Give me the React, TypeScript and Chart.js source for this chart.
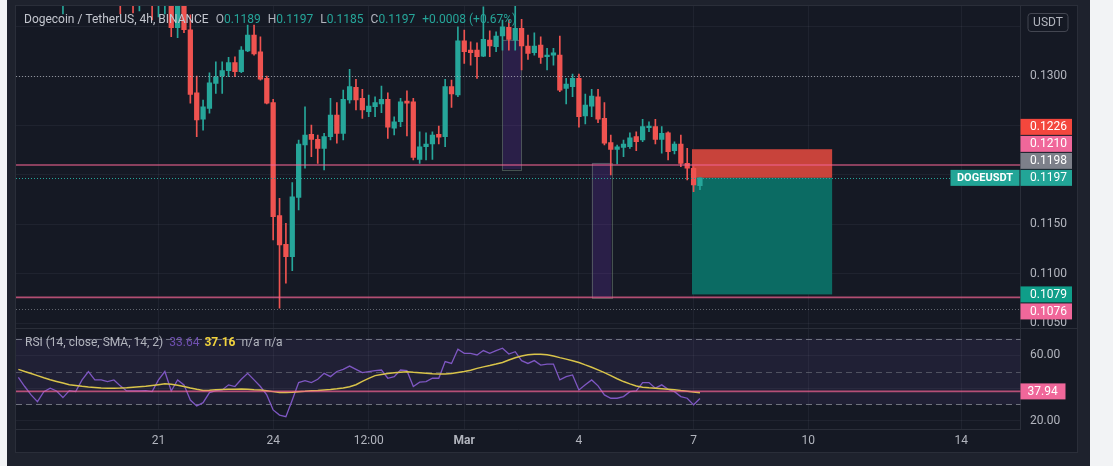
import React, { useEffect, useRef } from 'react';
import { Chart, registerables } from 'chart.js';

Chart.register(...registerables);

// ---------------- data ----------------
// candle position: 0 = 21 Feb 00:00, one step = one 4h candle
const candleIdx = [-15, -6, -4, -3, -1, 0, 1, 2, 3, 4, 5,
  6, 7, 8, 9, 10, 11, 12, 13, 14, 15,
  16, 17, 18, 19, 20, 21, 22, 23, 24, 25,
  26, 27, 28, 29, 30, 31, 32, 33, 34, 35,
  36, 37, 38, 39, 40, 41, 42, 43, 44, 45,
  46, 47, 48, 49, 50, 51, 52, 53, 54, 55,
  56, 57, 58, 59, 60, 61, 62, 63, 64, 65,
  66, 67, 68, 69, 70, 71, 72, 73, 74, 75,
  76, 77, 78, 79, 80, 81, 82, 83, 84, 85];

const opens = [0.1392, 0.1398, 0.1392, 0.1384, 0.1397, 0.1381, 0.1388, 0.1392, 0.1349, 0.1376, 0.1347,
  0.12832, 0.12563, 0.12674, 0.12927, 0.13001, 0.13055, 0.13136, 0.13044, 0.13254, 0.13416,
  0.13247, 0.12978, 0.12731, 0.11587, 0.11298, 0.11172, 0.11773, 0.12303, 0.12411, 0.12360,
  0.12269, 0.12387, 0.12606, 0.12421, 0.12758, 0.12887, 0.12775, 0.12640, 0.12690, 0.12718,
  0.12765, 0.12472, 0.12538, 0.12748, 0.12741, 0.12158, 0.12285, 0.12313, 0.12411, 0.12387,
  0.12893, 0.12809, 0.13358, 0.13264, 0.13264, 0.13203, 0.13365, 0.13298, 0.13406, 0.13494,
  0.13365, 0.13484, 0.13305, 0.13237, 0.13315, 0.13196, 0.13213, 0.13213, 0.12876, 0.12893,
  0.12978, 0.12596, 0.12697, 0.12791, 0.12573, 0.12326, 0.12259, 0.12279, 0.12285, 0.12387,
  0.12353, 0.12478, 0.12488, 0.12360, 0.12427, 0.12245, 0.12313, 0.12117, 0.12067, 0.1189];

const highs = [0.1400, 0.1405, 0.1400, 0.1396, 0.1402, 0.1394, 0.1398, 0.1395, 0.1385, 0.1382, 0.1362,
  0.13001, 0.12758, 0.13034, 0.13146, 0.13146, 0.13190, 0.13196, 0.13298, 0.13517, 0.13517,
  0.13399, 0.13001, 0.12765, 0.11763, 0.11510, 0.11921, 0.12353, 0.12690, 0.12505, 0.12404,
  0.12421, 0.12775, 0.12731, 0.12859, 0.13069, 0.12968, 0.12866, 0.12809, 0.12791, 0.12900,
  0.12832, 0.12589, 0.12775, 0.12852, 0.12775, 0.12437, 0.12427, 0.12437, 0.12495, 0.12968,
  0.12960, 0.13500, 0.13467, 0.13348, 0.13338, 0.13702, 0.13459, 0.13449, 0.13568, 0.13568,
  0.13709, 0.13575, 0.13416, 0.13439, 0.13399, 0.13281, 0.13281, 0.13406, 0.12978, 0.13021,
  0.13021, 0.12819, 0.12866, 0.12866, 0.12731, 0.12404, 0.12303, 0.12353, 0.12427, 0.12437,
  0.12563, 0.12538, 0.12563, 0.12488, 0.12437, 0.12336, 0.12404, 0.12269, 0.12083, 0.1197];

const lows = [0.1363, 0.1363, 0.1364, 0.1366, 0.1357, 0.1360, 0.1363, 0.1340, 0.1339, 0.1344, 0.12725,
  0.12387, 0.12454, 0.12626, 0.12826, 0.12826, 0.12994, 0.12994, 0.13034, 0.13247, 0.13213,
  0.12960, 0.12718, 0.11341, 0.10650, 0.10903, 0.11030, 0.11645, 0.12067, 0.12184, 0.12117,
  0.12050, 0.12353, 0.12320, 0.12353, 0.12725, 0.12657, 0.12573, 0.12589, 0.12589, 0.12629,
  0.12370, 0.12404, 0.12488, 0.12394, 0.12151, 0.12117, 0.12151, 0.12158, 0.12313, 0.12285,
  0.12684, 0.12791, 0.13129, 0.13112, 0.12978, 0.13196, 0.13196, 0.13247, 0.13264, 0.13264,
  0.13264, 0.13062, 0.13170, 0.13213, 0.13129, 0.13062, 0.13112, 0.12842, 0.12718, 0.12791,
  0.12482, 0.12515, 0.12589, 0.12528, 0.12303, 0.11999, 0.12110, 0.12184, 0.12269, 0.12245,
  0.12336, 0.12437, 0.12313, 0.12219, 0.12151, 0.12212, 0.12083, 0.11948, 0.11830, 0.1185];

const closes = [0.1398, 0.1390, 0.1384, 0.1390, 0.1381, 0.1388, 0.1392, 0.1349, 0.1376, 0.1347, 0.12816,
  0.12556, 0.12690, 0.12933, 0.12994, 0.13055, 0.13136, 0.13044, 0.13264, 0.13416, 0.13224,
  0.12968, 0.12725, 0.11577, 0.11290, 0.11172, 0.11779, 0.12313, 0.12404, 0.12360, 0.12269,
  0.12387, 0.12606, 0.12421, 0.12765, 0.12893, 0.12758, 0.12657, 0.12697, 0.12731, 0.12765,
  0.12482, 0.12538, 0.12741, 0.12725, 0.12178, 0.12285, 0.12313, 0.12404, 0.12381, 0.12893,
  0.12819, 0.13358, 0.13247, 0.13237, 0.13196, 0.13372, 0.13305, 0.13406, 0.13500, 0.13372,
  0.13484, 0.13305, 0.13231, 0.13305, 0.13190, 0.13213, 0.13237, 0.12859, 0.12920, 0.12978,
  0.12589, 0.12707, 0.12799, 0.12563, 0.12320, 0.12259, 0.12285, 0.12313, 0.12376, 0.12336,
  0.12488, 0.12495, 0.12360, 0.12421, 0.12235, 0.12313, 0.12117, 0.12067, 0.11898, 0.1197];

// RSI(14) and its SMA(14), first value at candle position -22
const rsiFirstIdx = -22;
const rsiValues = [46.5, 40.9, 35.8, 31.7, 37.8, 39.9, 38.2, 34.2, 38.4, 37.8,
  44.9, 50.0, 44.9, 44.9, 43.9, 44.9, 41.3, 38.2, 38.2, 38.2,
  38.4, 37.8, 44.9, 50.0, 38.2, 44.9, 41.9, 32.7, 29.1, 31.1,
  37.2, 38.4, 38.8, 41.9, 40.9, 45.3, 48.9, 44.9, 40.9, 35.8,
  26.7, 23.6, 22.6, 32.7, 43.3, 44.5, 43.3, 45.3, 48.9, 46.9,
  50.0, 51.3, 53.3, 51.3, 49.3, 49.9, 50.5, 50.9, 45.9, 46.9,
  50.9, 50.5, 40.9, 43.5, 43.9, 45.9, 45.9, 56.0, 54.9, 63.5,
  61.0, 61.0, 60.0, 62.7, 61.0, 62.7, 64.1, 60.6, 62.0, 56.6,
  54.9, 56.6, 53.9, 54.5, 54.5, 44.9, 46.9, 47.9, 38.8, 41.9,
  44.9, 41.3, 35.8, 33.8, 33.8, 34.8, 37.8, 38.2, 43.3, 43.3,
  39.9, 41.9, 39.2, 37.8, 34.8, 33.8, 29.8, 33.64];

const smaValues = [51.3, 50.0, 48.8, 47.5, 46.2, 45.0, 44.0, 43.0, 42.0, 41.5,
  41.0, 40.6, 40.3, 40.0, 39.9, 39.9, 40.0, 40.2, 40.5, 40.8,
  41.0, 41.5, 42.0, 42.5, 42.2, 41.6, 40.9, 40.0, 39.2, 38.5,
  38.6, 38.9, 39.1, 39.2, 39.3, 39.4, 39.3, 39.0, 38.8, 38.3,
  37.8, 37.3, 37.2, 37.4, 37.8, 38.0, 38.3, 38.5, 38.8, 39.1,
  39.5, 40.0, 40.8, 42.0, 44.0, 45.8, 47.5, 48.2, 48.8, 49.2,
  49.6, 49.9, 49.5, 49.2, 48.9, 48.6, 48.5, 48.5, 48.8, 49.4,
  50.0, 50.8, 51.9, 52.8, 53.6, 54.5, 55.5, 57.0, 58.3, 59.4,
  60.1, 60.4, 60.4, 60.1, 59.4, 58.4, 57.5, 56.5, 55.5, 54.0,
  52.6, 51.0, 49.3, 47.5, 45.6, 43.9, 42.5, 41.2, 40.5, 40.1,
  39.9, 39.6, 39.3, 39.0, 38.5, 38.1, 37.6, 37.16];

// time axis
const timeTickIdx = [0, 18, 33, 48, 66, 84, 102, 126];
const timeTickLabels = ['21', '24', '12:00', 'Mar', '4', '7', '10', '14'];

// price axis
const priceTicks = [0.105, 0.110, 0.115, 0.120, 0.125, 0.130, 0.135];
const priceTickLabels = ['0.1050', '0.1100', '0.1150', '', '', '0.1300', ''];

// rsi axis
const rsiTicks = [20, 40, 60];
const rsiTickLabels = ['20.00', '', '60.00'];
const rsiBands = [70, 50, 30];
const rsiLevel = 37.94;

// drawings
const pinkLevels = [0.1210, 0.1076];
const dottedLevels = [0.1300, 0.1064];
const lastPrice = 0.1197;
const zoneFrom = [54, 68];
const zoneTo = [57, 71.1];
const zoneTop = [0.1337, 0.12123];
const zoneBottom = [0.12057, 0.10757];
const shortFrom = 83.75;
const shortTo = 105.75;
const shortStop = 0.1226;
const shortEntry = 0.1197;
const shortTarget = 0.1079;

// price axis labels
const labelValues = [0.1226, 0.1210, 0.1198, 0.1197, 0.1079, 0.1076];
const labelTexts = ['0.1226', '0.1210', '0.1198', '0.1197', '0.1079', '0.1076'];
const labelColors = ['#f4473d', '#f0679a', '#7d808a', '#22a597', '#0f9e89', '#f0679a'];

// view range
const X_MIN = -22.37;
const X_MAX = 135.32;
const PRICE_MIN = 0.10450;
const PRICE_MAX = 0.13710;
const RSI_MIN = 15.15;
const RSI_MAX = 75.76;

// ---------------- styles ----------------
const FONT = 'Roboto, "Noto Sans", "DejaVu Sans", sans-serif';
const UP = '#26a69a';
const DOWN = '#ef5350';
const TEXT = '#b2b5be';
const GRID = 'rgba(240,243,250,0.05)';
const PANEL = '#151924';
const FRAME = '#1e222d';
const SEP = '#2a2e39';
const PINK_LINE = 'rgba(240,98,146,0.72)';
const RSI_COL = '#7e57c2';
const SMA_COL = '#d9c44a';

type Seg = { text: string; color: string; font: string; gap?: number };

function drawSegs(ctx: CanvasRenderingContext2D, segs: Seg[], x: number, y: number) {
  let cx = x;
  ctx.textBaseline = 'middle';
  ctx.textAlign = 'left';
  segs.forEach((s) => {
    ctx.font = s.font;
    ctx.fillStyle = s.color;
    ctx.fillText(s.text, cx, y);
    cx += ctx.measureText(s.text).width + (s.gap ?? 0);
  });
}

function hLine(ctx: CanvasRenderingContext2D, y: number, x0: number, x1: number, color: string, width: number, dash: number[]) {
  ctx.save();
  ctx.strokeStyle = color;
  ctx.lineWidth = width;
  ctx.setLineDash(dash);
  ctx.beginPath();
  ctx.moveTo(x0, y);
  ctx.lineTo(x1, y);
  ctx.stroke();
  ctx.restore();
}

const mainDeco = {
  id: 'mainDeco',
  beforeDatasetsDraw(chart: any) {
    const { ctx, chartArea: a, scales } = chart;
    const x = scales.x;
    const y = scales.y;
    ctx.save();
    ctx.beginPath();
    ctx.rect(a.left, a.top, a.right - a.left, a.bottom - a.top);
    ctx.clip();
    // purple zones
    zoneFrom.forEach((f, k) => {
      const x0 = x.getPixelForValue(f);
      const x1 = x.getPixelForValue(zoneTo[k]);
      const y0 = y.getPixelForValue(zoneTop[k]);
      const y1 = y.getPixelForValue(zoneBottom[k]);
      ctx.fillStyle = 'rgba(112,52,190,0.24)';
      ctx.fillRect(x0, y0, x1 - x0, y1 - y0);
      ctx.strokeStyle = 'rgba(110,130,115,0.55)';
      ctx.lineWidth = 1;
      ctx.strokeRect(Math.round(x0) + 0.5, Math.round(y0) + 0.5, Math.round(x1 - x0), Math.round(y1 - y0));
    });
    // short position tool
    const sx0 = x.getPixelForValue(shortFrom);
    const sx1 = x.getPixelForValue(shortTo);
    const ys = y.getPixelForValue(shortStop);
    const ye = y.getPixelForValue(shortEntry);
    const yt = y.getPixelForValue(shortTarget);
    ctx.fillStyle = '#c8433b';
    ctx.fillRect(sx0, ys, sx1 - sx0, ye - ys);
    ctx.fillStyle = '#0b6b63';
    ctx.fillRect(sx0, ye, sx1 - sx0, yt - ye);
    ctx.restore();
  },
  afterDatasetsDraw(chart: any) {
    const { ctx, chartArea: a, scales } = chart;
    const y = scales.y;
    ctx.save();
    ctx.beginPath();
    ctx.rect(a.left, a.top, a.right - a.left, a.bottom - a.top);
    ctx.clip();
    dottedLevels.forEach((v, k) => {
      const py = Math.round(y.getPixelForValue(v)) + 0.5;
      hLine(ctx, py, a.left, a.right, k === 0 ? 'rgba(178,181,190,0.75)' : 'rgba(150,153,162,0.6)', 1, [1, 2]);
    });
    hLine(ctx, Math.round(y.getPixelForValue(lastPrice)) + 0.5, a.left, a.right, UP, 1, [1, 2]);
    pinkLevels.forEach((v) => {
      hLine(ctx, y.getPixelForValue(v), a.left, a.right, PINK_LINE, 1.6, []);
    });
    ctx.restore();
  },
  afterDraw(chart: any) {
    const { ctx, chartArea: a, scales } = chart;
    const y = scales.y;
    ctx.save();
    // stacked price-axis labels (anchored at last price and at 0.1079)
    const pos: number[] = labelValues.map((v) => y.getPixelForValue(v));
    const H = 17;
    for (let k = 2; k >= 0; k--) pos[k] = Math.min(pos[k], pos[k + 1] - H);
    pos[5] = Math.max(pos[5], pos[4] + H);
    const bx = y.left;
    labelValues.forEach((_, k) => {
      ctx.fillStyle = labelColors[k];
      ctx.fillRect(bx, pos[k] - 8, 51.5, 16);
      ctx.fillStyle = '#ffffff';
      ctx.font = `12px ${FONT}`;
      ctx.textBaseline = 'middle';
      ctx.textAlign = 'left';
      ctx.fillText(labelTexts[k], bx + 9.5, pos[k] + 0.5);
    });
    // symbol tag
    ctx.fillStyle = '#22a597';
    ctx.fillRect(bx - 70, pos[3] - 8, 69, 16);
    ctx.fillStyle = '#ffffff';
    ctx.font = `bold 11px ${FONT}`;
    ctx.textAlign = 'center';
    ctx.fillText('DOGEUSDT', bx - 35.5, pos[3] + 0.5);
    // currency box
    ctx.strokeStyle = '#434651';
    ctx.lineWidth = 1;
    ctx.beginPath();
    (ctx as any).roundRect(bx + 7.5, 7.5, 40, 18, 3);
    ctx.stroke();
    ctx.fillStyle = TEXT;
    ctx.font = `12px ${FONT}`;
    ctx.fillText('USDT', bx + 27.5, 17);
    // legend
    const g = `12px ${FONT}`;
    drawSegs(ctx, [
      { text: 'Dogecoin / TetherUS, 4h, BINANCE', color: '#c3c6ce', font: g, gap: 7 },
      { text: 'O', color: TEXT, font: g },
      { text: '0.1189', color: UP, font: g, gap: 7 },
      { text: 'H', color: TEXT, font: g },
      { text: '0.1197', color: UP, font: g, gap: 7 },
      { text: 'L', color: TEXT, font: g },
      { text: '0.1185', color: UP, font: g, gap: 7 },
      { text: 'C', color: TEXT, font: g },
      { text: '0.1197', color: UP, font: g, gap: 7 },
      { text: '+0.0008 (+0.67%)', color: UP, font: g },
    ], a.left + 8, 14);
    ctx.restore();
  },
};

const rsiDeco = {
  id: 'rsiDeco',
  beforeDatasetsDraw(chart: any) {
    const { ctx, chartArea: a, scales } = chart;
    const y = scales.y;
    ctx.save();
    const y70 = y.getPixelForValue(rsiBands[0]);
    const y30 = y.getPixelForValue(rsiBands[2]);
    ctx.fillStyle = 'rgba(126,87,194,0.11)';
    ctx.fillRect(a.left, y70, a.right - a.left, y30 - y70);
    rsiBands.forEach((v, k) => {
      const py = Math.round(y.getPixelForValue(v)) + 0.5;
      hLine(ctx, py, a.left, a.right, k === 1 ? 'rgba(120,123,134,0.55)' : 'rgba(120,123,134,0.9)', 1, [6, 4]);
    });
    ctx.restore();
  },
  afterDatasetsDraw(chart: any) {
    const { ctx, chartArea: a, scales } = chart;
    const y = scales.y;
    hLine(ctx, y.getPixelForValue(rsiLevel), a.left, a.right, PINK_LINE, 1.6, []);
  },
  afterDraw(chart: any) {
    const { ctx, chartArea: a, scales } = chart;
    const y = scales.y;
    ctx.save();
    const py = y.getPixelForValue(rsiLevel);
    ctx.fillStyle = '#f0679a';
    ctx.fillRect(y.left, py - 8, 45, 16);
    ctx.fillStyle = '#ffffff';
    ctx.font = `12px ${FONT}`;
    ctx.textBaseline = 'middle';
    ctx.textAlign = 'left';
    ctx.fillText(rsiLevel.toFixed(2), y.left + 7, py + 0.5);
    const g = `12px ${FONT}`;
    drawSegs(ctx, [
      { text: 'RSI (14, close, SMA, 14, 2)', color: TEXT, font: g, gap: 6 },
      { text: rsiValues[rsiValues.length - 1].toFixed(2), color: '#6e4fb0', font: g, gap: 5 },
      { text: smaValues[smaValues.length - 1].toFixed(2), color: '#f2d43e', font: `bold 12px ${FONT}`, gap: 6 },
      { text: 'n/a', color: TEXT, font: g, gap: 5 },
      { text: 'n/a', color: TEXT, font: g },
    ], a.left + 9, 14);
    ctx.restore();
  },
};

export default function App() {
  const mainRef = useRef<HTMLCanvasElement>(null);
  const rsiRef = useRef<HTMLCanvasElement>(null);

  useEffect(() => {
    const colors = candleIdx.map((_, k) => (closes[k] >= opens[k] ? UP : DOWN));
    const main = new Chart(mainRef.current as HTMLCanvasElement, {
      type: 'bar',
      data: {
        datasets: [
          {
            data: candleIdx.map((x, k) => ({ x, y: [lows[k], highs[k]] })) as any,
            backgroundColor: colors,
            barThickness: 1,
            grouped: false,
            order: 2,
          },
          {
            data: candleIdx.map((x, k) => ({ x, y: [opens[k], closes[k]] })) as any,
            backgroundColor: colors,
            barThickness: 4.6,
            minBarLength: 1,
            grouped: false,
            order: 1,
          },
        ],
      },
      options: {
        animation: false,
        responsive: true,
        maintainAspectRatio: false,
        events: [],
        layout: { padding: 0 },
        plugins: { legend: { display: false }, tooltip: { enabled: false } },
        scales: {
          x: {
            type: 'linear',
            min: X_MIN,
            max: X_MAX,
            offset: false,
            grid: { color: GRID, drawTicks: false, offset: false },
            border: { display: false },
            ticks: { display: false, autoSkip: false },
            afterBuildTicks: (s: any) => { s.ticks = timeTickIdx.map((v) => ({ value: v })); },
            afterFit: (s: any) => { s.height = 0; s.paddingLeft = 0; s.paddingRight = 0; },
          },
          y: {
            type: 'linear',
            position: 'right',
            min: PRICE_MIN,
            max: PRICE_MAX,
            grid: { color: GRID, drawTicks: false },
            border: { display: true, color: SEP },
            ticks: {
              autoSkip: false,
              color: TEXT,
              padding: 9.5,
              font: { family: FONT, size: 12 },
              callback: (_v: any, i: number) => priceTickLabels[i],
            },
            afterBuildTicks: (s: any) => { s.ticks = priceTicks.map((v) => ({ value: v })); },
            afterFit: (s: any) => { s.width = 56.5; s.paddingTop = 0; s.paddingBottom = 0; },
          },
        },
      } as any,
      plugins: [mainDeco],
    });

    const rsi = new Chart(rsiRef.current as HTMLCanvasElement, {
      type: 'line',
      data: {
        datasets: [
          {
            data: rsiValues.map((v, k) => ({ x: rsiFirstIdx + k, y: v })),
            borderColor: RSI_COL,
            borderWidth: 1.3,
            pointRadius: 0,
            tension: 0,
            order: 2,
          },
          {
            data: smaValues.map((v, k) => ({ x: rsiFirstIdx + k, y: v })),
            borderColor: SMA_COL,
            borderWidth: 1.5,
            pointRadius: 0,
            tension: 0,
            order: 1,
          },
        ],
      },
      options: {
        animation: false,
        responsive: true,
        maintainAspectRatio: false,
        events: [],
        layout: { padding: 0 },
        plugins: { legend: { display: false }, tooltip: { enabled: false } },
        scales: {
          x: {
            type: 'linear',
            min: X_MIN,
            max: X_MAX,
            offset: false,
            grid: { color: GRID, drawTicks: false, offset: false },
            border: { display: true, color: SEP },
            ticks: {
              autoSkip: false,
              maxRotation: 0,
              color: TEXT,
              padding: 5,
              font: (c: any) => ({ family: FONT, size: 12, weight: c.tick && c.tick.label === 'Mar' ? 'bold' : 'normal' }),
              callback: (_v: any, i: number) => timeTickLabels[i],
            },
            afterBuildTicks: (s: any) => { s.ticks = timeTickIdx.map((v) => ({ value: v })); },
            afterFit: (s: any) => { s.height = 23; s.paddingLeft = 0; s.paddingRight = 0; },
          },
          y: {
            type: 'linear',
            position: 'right',
            min: RSI_MIN,
            max: RSI_MAX,
            grid: { color: GRID, drawTicks: false },
            border: { display: true, color: SEP },
            ticks: {
              autoSkip: false,
              color: TEXT,
              padding: 9.5,
              font: { family: FONT, size: 12 },
              callback: (_v: any, i: number) => rsiTickLabels[i],
            },
            afterBuildTicks: (s: any) => { s.ticks = rsiTicks.map((v) => ({ value: v })); },
            afterFit: (s: any) => { s.width = 56.5; s.paddingTop = 0; s.paddingBottom = 0; },
          },
        },
      } as any,
      plugins: [rsiDeco],
    });

    return () => {
      main.destroy();
      rsi.destroy();
    };
  }, []);

  return (
    <div style={{ position: 'fixed', left: 0, top: 0, width: 1113, height: 466, background: '#f2f3f5', overflow: 'hidden' }}>
      <div style={{ position: 'absolute', left: 7, top: 0, width: 1083, height: 466, background: FRAME }} />
      <div style={{ position: 'absolute', left: 15, top: 5, width: 1063, height: 448, background: SEP }} />
      <div style={{ position: 'absolute', left: 16, top: 6, width: 1061, height: 446, background: PANEL }} />
      <div style={{ position: 'absolute', left: 16, top: 6, width: 1061, height: 322 }}>
        <canvas ref={mainRef} />
      </div>
      <div style={{ position: 'absolute', left: 16, top: 328, width: 1061, height: 1, background: SEP }} />
      <div style={{ position: 'absolute', left: 16, top: 329, width: 1061, height: 123 }}>
        <canvas ref={rsiRef} />
      </div>
    </div>
  );
}
